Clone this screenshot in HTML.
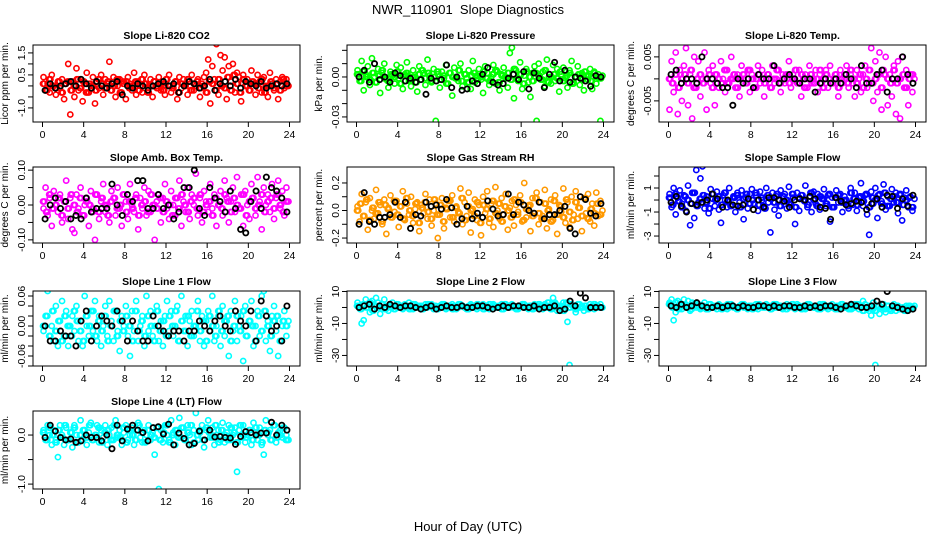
<!DOCTYPE html>
<html><head><meta charset="utf-8"><style>
html,body{margin:0;padding:0;background:#fff;}
svg{display:block;font-family:"Liberation Sans",sans-serif;}
</style></head><body>
<svg id="chart" width="936" height="540" viewBox="0 0 936 540" xmlns="http://www.w3.org/2000/svg">
<rect x="0" y="0" width="936" height="540" fill="#fff"/>
<text x="468" y="14" text-anchor="middle" font-size="13">NWR_110901&#160; Slope Diagnostics</text>
<text x="468" y="531" text-anchor="middle" font-size="13">Hour of Day (UTC)</text>
</svg>
<script>
const xTicks = [0,4,8,12,16,20,24];
const titles = ["Slope Li-820 CO2","Slope Li-820 Pressure","Slope Li-820 Temp.","Slope Amb. Box Temp.","Slope Gas Stream RH","Slope Sample Flow","Slope Line 1 Flow","Slope Line 2 Flow","Slope Line 3 Flow","Slope Line 4 (LT) Flow"];
const yTitles = ["Licor ppm per min.","kPa per min.","degrees C per min.","degrees C per min.","percent per min.","ml/min per min.","ml/min per min.","ml/min per min.","ml/min per min.","ml/min per min."];
const colors = ["#ff0000","#00ff00","#ff00ff","#ff00ff","#ff9900","#0000ff","#00ffff","#00ffff","#00ffff","#00ffff"];
const yDomains = [[-1.64,1.86],[-33.8,24],[-9.8,7.7],[-10.9,10.9],[-23.6,31.6],[-3.58,2.75],[-8,7],[-36.6,10.3],[-36.6,10.3],[-1.10,0.49]];
const yTickVals = [[-1,-0.5,0,0.5,1,1.5],[-30,-20,-10,0,10,20],[-5,0,5],[-10,-5,0,5,10],[-20,-10,0,10,20],[-3,-2,-1,0,1,2],[-8,-6,-4,-2,0,2,4,6],[-30,-20,-10,0,10],[-30,-20,-10,0,10],[-1,-0.5,0]];
const yLabelVals = [[-1,0.5,1.5],[-30,0],[-5,5],[-10,0,10],[-20,0,20],[-3,-1,1],[-6,0,6],[-30,-10,10],[-30,-10,10],[-1,0]];
const yLabelText = [["-1.0","0.5","1.5"],["-0.03","0.00"],["-0.005","0.005"],["-0.10","0.00","0.10"],["-0.2","0.0","0.2"],["-3","-1","1"],["-0.06","0.00","0.06"],["-30","-10","10"],["-30","-10","10"],["-1.0","0.0"]];

const co2 = [0.4,-0.2,0.1,-0.3,0.5,0.0,-0.4,0.2,-0.1,0.3,-0.6,0.1,1.0,-1.3,0.2,-0.5,0.8,-0.2,0.3,-0.7,0.1,0.6,-0.3,0.0,0.4,-0.8,0.2,-0.1,0.5,-0.4,0.3,0.1,1.1,-0.2,0.4,-0.5,0.0,0.3,-0.3,0.2,
-0.6,0.4,0.1,-0.2,0.6,-0.4,0.2,0.0,-0.3,0.5,0.1,-0.1,0.3,-0.5,0.2,0.0,0.4,-0.2,0.1,-0.4,0.3,0.5,-0.3,0.0,0.2,-0.6,0.4,-0.1,0.3,0.1,-0.4,0.2,0.5,-0.2,0.0,0.3,-0.5,0.1,0.4,0.6,
1.2,-0.8,0.9,0.3,1.9,-0.4,1.4,0.7,1.3,-0.6,0.9,0.2,1.0,-0.3,0.6,0.4,-0.7,0.5,0.0,0.3,-0.2,0.7,0.1,-0.4,0.5,0.2,-0.3,0.4,0.0,-0.5,0.6,0.1,-0.2,0.3,-0.6,0.2,0.4,-0.1,0.3,0.0];
const co2Core = [0.1,-0.2,0.3,0.0,-0.1,0.2,-0.3,0.1,0.2,-0.2,0.0,0.3,-0.1,0.2,-0.3,0.1,0.0,-0.2,0.3,0.1,-0.1,0.2,-0.2,0.0,0.3,-0.3,0.1,0.2,-0.1,0.0,0.2,-0.2,0.3,0.1,-0.3,0.0,0.2,-0.1,0.1,-0.2,
0.3,0.0,-0.1,0.2,-0.3,0.1,0.0,0.3,-0.2,0.1,0.2,-0.1,0.0,-0.3,0.2,0.1,-0.2,0.3,0.0,-0.1,0.4,-0.2,0.5,0.1,-0.3,0.3,0.0,-0.2,0.2,0.1,-0.1,0.3,-0.3,0.0,0.2,-0.1,0.1,-0.2,0.3,0.0];
const co2Ref = [-0.2,0.1,-0.1,0.0,0.1,0.2,0.0,0.3,0.1,-0.1,0.2,0.0,-0.1,0.1,0.2,-0.4,0.0,-0.1,0.1,0.0,-0.2,0.0,0.1,0.2,0.0,0.1,-0.3,0.0,0.2,0.1,-0.1,0.0,0.3,-0.2,0.1,0.2,0.0,0.3,-0.1,0.2,0.1,0.0,0.2,-0.1,0.0,0.1,0.0,0.1];
const pres = [5,-3,12,-10,2,8,-6,14,0,-4,6,-12,3,10,-2,-8,4,1,-5,9,-1,7,-9,2,11,-3,-7,5,0,-11,8,-2,3,-6,13,1,-4,6,-33,2,
-8,4,-1,9,-5,3,-14,7,0,-3,10,-7,2,-1,5,-9,12,-4,1,6,-2,-12,8,3,-6,0,9,-5,4,-10,2,7,-1,-8,18,22,-16,5,-3,11,
-9,1,6,-4,-15,3,8,-33,10,-2,4,-7,13,0,-5,9,-3,6,-11,2,7,-1,-8,5,12,-4,0,8,-6,3,-10,1,-2,6,-9,4,-5,2,-33,1];
const presCore = [2,-3,4,0,-2,3,-4,1,5,-1,-3,2,0,4,-5,1,3,-2,0,-4,2,5,-1,3,-3,0,4,-2,1,-5,3,0,-1,5,-3,2,-4,1,3,-2,
0,4,-1,-3,2,5,-4,1,0,3,-2,6,-1,2,-5,4,0,-3,3,1,-2,5,-4,0,2,-1,4,-3,1,3,-5,0,2,-2,4,1,-3,3,0,-1];
const presRef = [0,5,-4,10,-2,0,-4,3,1,-3,-1,-4,-2,-13,-1,-3,-2,9,-8,0,-10,-9,-3,-5,2,7,-4,-6,-5,-1,2,-2,4,-9,3,-1,-8,2,11,-3,5,-4,0,-1,-3,-7,1,0];
const lTemp = [-7,4,-3,6,-8,2,-5,3,7,-6,1,-9,5,-2,4,-4,0,6,-7,2,-1,3,-6,1,-2,4,0,-3,2,-1,5,0,-2,1,-4,3,0,-1,2,-3,
1,-2,0,3,-1,2,-4,0,1,-2,3,-1,0,2,-3,1,-1,0,4,-2,1,0,-1,2,-4,0,1,-2,3,-1,0,2,-3,1,-1,0,2,-2,3,-1,
0,1,-4,2,-1,0,3,-2,1,-1,-4,2,0,-3,1,3,-2,-1,7,-5,4,-3,6,-7,2,5,-6,1,-4,3,-8,4,-9,5,-2,2,-6,1,-3,0];
const lTempCore = [0,-1,1,-2,0,1,-1,2,-2,0,1,-1,0,1,-2,1,0,-1,2,-1,0,1,-2,0,1,-1,2,0,-2,1,0,-1,1,-2,0,2,-1,0,1,-1,
0,2,-1,1,-2,0,1,-1,0,2,-2,1,0,-1,1,-2,0,1,-1,2,0,-1,1,-2,0,2,-1,0,1,-2,1,0,-1,2,-1,0,1,-2,0,1];
const lTempRef = [1,2,-1,0,0,-1,5,0,0,-1,-2,-2,-6,0,-1,0,-2,1,0,0,3,-1,0,1,0,-1,0,0,-3,-1,0,-1,0,-1,1,0,-2,3,-1,-1,1,2,-3,0,0,5,1,-1];
const boxTemp = [-1,5,-3,2,-6,4,0,-2,3,-5,1,7,-4,2,-7,-8,3,-1,5,-3,0,2,-6,4,-2,-10,3,-4,1,6,-2,0,-5,4,2,-3,5,-1,-6,3,
1,-4,6,0,-2,3,-7,2,-1,5,-3,4,-2,0,-10,1,3,-5,2,6,-1,-4,4,0,-3,2,7,-6,1,-2,5,-4,3,0,9,-3,2,-5,4,1,
-2,6,-1,3,-6,0,4,-3,7,2,-5,1,5,-2,8,-1,3,-6,4,0,-4,6,2,-3,8,1,-7,5,0,3,-2,6,-4,2,7,-1,4,-3,5,1];
const boxTempCore = [1,-2,3,-1,0,2,-3,1,-1,3,0,-2,2,-3,1,0,-1,3,-2,2,0,-3,1,2,-1,0,3,-2,1,-1,2,-3,0,1,-2,3,0,-1,2,-2,
1,0,-3,2,-1,3,0,-2,1,2,-1,3,-2,0,1,-3,2,0,-1,3,1,-2,2,0,-1,3,-3,1,2,-1,0,3,-2,1,2,-1,3,0,-2,1];
const boxTempRef = [-4,0,2,-1,1,-4,-3,-4,2,-2,-1,-1,-1,6,0,-3,3,1,7,7,-1,-1,3,-1,0,-4,-2,5,5,10,-1,-3,5,2,1,-2,4,-1,-7,-8,1,4,-1,8,5,4,2,-2];
const rh = [3,-8,12,-4,6,-14,9,0,-6,15,-2,4,-10,8,-17,2,11,-5,-1,7,-12,3,14,-7,5,-3,10,-9,1,6,-15,4,-2,12,-6,8,-11,0,5,-20,
-3,9,-13,2,7,-5,11,-8,3,-1,16,-10,6,-4,13,-16,1,8,-7,4,-18,10,-2,14,-9,5,-12,17,0,-6,9,-3,12,-14,2,7,-11,4,-1,11,
-8,20,-5,3,-15,9,-2,13,-10,6,-4,15,-13,1,8,-7,11,-17,4,-1,16,-9,6,-12,10,-3,14,-6,2,-15,9,-2,12,-8,5,-11,13,-4,7,0];
const rhCore = [0,5,-4,8,-7,2,-2,6,-8,4,1,-5,7,-3,3,-6,9,0,-4,5,-9,2,6,-1,-6,8,-3,4,-8,1,7,-5,2,-2,9,-7,3,0,-4,6,
-9,4,1,-6,7,-2,5,-8,3,0,-5,8,-3,6,-7,1,4,-4,9,-2,-6,5,0,-8,7,-3,3,-5,8,-1,-7,6,2,-4,9,-6,1,-2,5,-3];
const rhRef = [-10,13,-8,-10,-5,-5,-3,6,-5,6,-13,-3,-4,6,3,4,1,8,2,-10,-6,3,-6,-2,-5,7,1,-4,-3,12,-3,6,4,0,-2,6,-6,-3,-3,0,3,-13,-17,10,8,-2,-4,5];
const sFlow = [0.5,-0.6,1.0,-1.2,0.2,0.8,-0.3,0.4,-0.9,1.2,-2.1,0.6,-1.5,2.5,-0.2,1.8,2.8,-0.7,0.3,-1.1,0.9,0.1,-0.5,0.7,-0.8,-1.9,0.4,0.0,-0.6,1.0,-0.4,0.3,-1.0,0.6,-0.2,0.8,-1.6,0.2,-0.7,0.5,
0.9,-0.3,0.4,-0.9,0.7,0.0,-0.5,1.0,-0.2,-2.7,0.6,-0.8,0.3,-1.3,0.8,-0.1,0.5,-0.7,1.1,-0.4,0.2,-2.0,0.6,-0.9,0.4,0.0,1.2,-0.6,0.3,-1.0,0.7,-0.3,0.5,-0.8,0.1,0.9,-0.5,0.4,-1.8,0.2,
-0.6,0.8,-0.2,0.5,-1.0,0.3,0.0,-0.7,1.0,-0.4,0.6,-0.9,0.2,1.4,-0.5,0.4,-1.2,-2.9,0.7,-0.3,1.0,-1.5,0.5,-0.1,1.3,-0.8,0.3,-0.5,0.9,-0.2,0.6,-1.1,0.4,-1.7,0.2,0.8,-0.6,0.3,-0.9,0.1];
const sFlowCore = [0.2,-0.4,0.5,-0.1,-0.6,0.3,0.0,-0.3,0.6,-0.5,0.1,0.4,-0.2,-0.7,0.5,0.0,0.3,-0.4,0.6,-0.1,-0.5,0.2,0.4,-0.6,0.1,0.5,-0.3,0.0,0.6,-0.4,0.2,-0.7,0.4,0.1,-0.2,0.5,-0.5,0.3,0.0,-0.3,
0.5,-0.6,0.2,0.4,-0.1,-0.4,0.6,0.0,-0.5,0.3,0.1,-0.3,0.5,-0.6,0.2,0.4,-0.2,0.0,-0.5,0.6,0.1,-0.4,0.3,-0.1,0.5,-0.6,0.2,0.0,0.4,-0.3,0.6,-0.5,0.1,0.3,-0.2,0.5,-0.4,0.0,0.2,-0.6];
const sFlowRef = [-0.2,0.3,-0.5,-1.0,-0.3,-0.4,-0.2,0.0,0.5,0.1,-0.6,0.0,-0.4,-0.5,-0.4,0.1,-0.8,0.0,-0.6,0.2,0.2,0.0,-0.1,-0.6,0.0,0.1,0.0,0.3,0.1,-0.6,-0.7,-1.6,0.2,-0.1,-0.4,-0.3,-0.1,-0.2,-0.8,-0.3,0.1,-0.6,0.4,0.3,-0.7,0.1,-0.5,0.4];
const line1 = [-1,2,7,-2,0,-3,4,-4,1,5,-2,3,-4,0,2,-1,4,-3,1,-4,6,0,-2,3,-1,5,-3,2,-4,0,4,-2,5,1,-3,3,-1,-5,2,0,
4,-2,-6,3,-1,5,-3,0,2,-4,6,-1,3,-2,0,4,-3,1,-4,2,5,-1,3,-2,0,4,-3,6,-1,2,-4,1,3,-2,0,5,-3,2,-4,1,
3,-1,6,-3,0,2,-4,4,-2,1,-6,3,-1,5,-3,0,2,-7,4,-2,1,5,-4,0,3,-2,6,7,-3,1,-5,2,4,-1,-6,-9,0,3,-2,1];
const line1Core = [0,2,-2,3,-1,1,-3,2,0,-2,3,1,-1,-3,2,0,3,-2,1,-1,2,-3,0,3,-2,1,-1,2,0,-3,3,-1,1,-2,2,0,-3,3,-1,1,
-2,2,0,3,-3,1,-1,2,-2,0,3,-1,1,-3,2,0,-2,3,-1,1,2,-3,0,2,-1,3,-2,1,0,-3,2,-1,3,0,-2,1,2,-3,1,0];
const line1Ref = [0,-3,-3,-1,-2,-2,-4,1,3,-3,0,2,1,0,3,1,-3,1,-1,-3,-3,2,0,-1,-2,-1,-1,-3,-1,-1,1,0,-1,1,2,0,-1,3,1,0,3,-3,5,2,-1,0,-3,4];
const line2 = [3,1,-10,-8,5,2,-3,4,-1,6,3,-4,2,5,0,-2,1,3,-1,2,0,1,-1,2,1,3,0,-1,2,1,0,1,-1,2,0,1,2,-1,1,0,
1,2,0,-1,1,0,2,1,-1,0,2,1,0,-1,1,2,0,1,-1,0,1,2,0,1,-1,0,2,1,0,1,2,-1,0,1,0,2,1,-1,0,1,
2,0,1,-1,1,0,2,1,0,1,-1,2,0,1,0,6,3,-2,1,0,3,-1,-9,-36,2,1,-3,2,0,1,-2,1,0,2,1,-1,1,0,2,0];
const line2Core = [1,-1,2,0,3,-2,1,0,2,-1,1,0,-1,2,1,0,1,-1,2,0,1,-1,0,2,1,0,-1,1,2,0,1,-1,0,2,1,0,-1,1,0,2,
1,-1,0,2,1,0,1,-1,2,0,1,0,-1,1,2,0,1,-1,0,2,1,0,3,-1,2,0,1,-2,3,0,1,-1,2,0,1,-1,0,2,1,0];
const line2Ref = [0,1,2,-1,1,0,2,1,0,1,1,0,-1,0,1,-1,0,1,0,0,1,0,0,1,1,0,-1,0,1,0,1,1,0,0,1,-1,0,0,1,-2,-1,4,1,9,6,0,0,0];
const line3 = [3,5,-8,-3,4,2,-1,5,1,4,-2,3,1,0,2,-1,1,3,0,-1,2,1,0,-1,2,1,0,1,-1,0,2,1,0,-1,1,2,0,1,-1,0,
1,0,2,-1,1,0,1,2,0,-1,1,0,2,1,0,-1,1,2,0,1,0,-1,2,1,0,1,-1,0,2,1,0,1,-1,2,0,1,0,-1,1,2,
0,1,-1,0,2,1,0,-1,1,0,2,1,-1,0,4,2,-1,-2,-5,3,-36,1,-4,0,2,-3,1,-1,0,2,-2,1,-1,0,-2,1,0,-1,0,1];
const line3Core = [2,0,3,-1,1,2,0,-1,2,1,0,1,-1,2,0,1,1,-1,0,2,1,0,-1,1,2,0,1,-1,0,2,1,0,1,-1,2,0,1,0,-1,1,
2,0,1,-1,0,2,1,0,1,-1,2,0,1,0,-1,1,2,0,1,-1,0,2,1,-2,0,1,-1,-2,1,0,-1,1,-2,0,1,-1,0,-2,1,0];
const line3Ref = [1,0,2,0,1,3,1,0,0,1,0,1,1,0,1,0,0,1,1,0,1,0,1,1,0,0,1,0,1,0,1,1,0,-1,1,2,1,0,0,1,4,2,10,1,0,-1,-2,-1];
const line4 = [0.1,-0.1,0.2,0.0,-0.2,0.1,-0.1,-0.45,0.2,0.0,-0.2,0.15,-0.1,0.05,-0.25,0.2,0.0,-0.15,0.3,-0.1,0.1,-0.2,0.05,0.25,-0.1,0.0,0.2,-0.15,0.1,-0.05,0.2,-0.2,0.0,0.15,-0.1,0.3,-0.05,0.1,-0.2,0.05,
0.2,-0.1,0.0,0.15,-0.2,0.1,0.25,-0.05,-0.15,0.1,0.0,0.2,-0.1,0.05,-0.4,0.15,-1.1,0.1,-0.15,0.2,0.0,-0.1,0.3,0.05,-0.2,0.1,0.35,-0.05,0.15,-0.1,0.2,0.0,-0.2,0.1,0.45,-0.1,0.05,0.2,-0.25,0.1,
0.3,-0.05,0.15,-0.2,0.0,0.1,-0.1,0.25,-0.15,0.05,0.2,-0.1,0.0,0.15,-0.75,0.1,-0.05,0.2,-0.15,0.0,0.1,-0.2,0.25,0.05,-0.1,0.15,-0.2,-0.4,0.3,0.0,0.1,-0.1,0.2,-0.15,0.05,0.1,-0.05,0.15,0.0,-0.1];
const line4Core = [0.05,-0.1,0.15,0.0,-0.15,0.1,-0.05,0.2,-0.1,0.05,0.15,-0.15,0.0,0.1,-0.05,0.2,-0.1,0.0,0.15,-0.15,0.05,0.1,-0.1,0.2,0.0,-0.05,0.15,-0.15,0.1,0.0,-0.1,0.2,0.05,-0.15,0.1,0.0,-0.05,0.15,-0.1,0.05,
0.2,-0.15,0.0,0.1,-0.05,0.15,-0.1,0.05,0.2,-0.15,0.0,0.1,-0.1,0.15,0.05,-0.05,0.2,-0.15,0.1,0.0,-0.1,0.15,0.05,-0.15,0.2,0.0,-0.05,0.1,-0.1,0.15,0.0,-0.15,0.1,0.05,-0.1,0.2,-0.05,0.0,0.15,-0.1];
const line4Ref = [-0.05,0.2,0.08,-0.05,-0.1,-0.08,-0.15,-0.12,0.0,-0.05,-0.05,-0.12,0.0,-0.28,0.2,-0.12,0.12,0.2,0.1,0.05,-0.12,0.15,0.17,0.02,0.22,-0.2,0.04,-0.07,-0.2,-0.17,0.08,-0.1,0.1,-0.04,-0.03,-0.05,-0.06,-0.19,-0.03,0.07,0.05,0.0,0.04,0.04,0.26,0.0,0.2,0.1];

const seriesAll = [co2,pres,lTemp,boxTemp,rh,sFlow,line1,line2,line3,line4];
const coreAll = [co2Core,presCore,lTempCore,boxTempCore,rhCore,sFlowCore,line1Core,line2Core,line3Core,line4Core];
const refAll = [co2Ref,presRef,lTempRef,boxTempRef,rhRef,sFlowRef,line1Ref,line2Ref,line3Ref,line4Ref];

const NS = "http://www.w3.org/2000/svg";
const svg = document.getElementById("chart");
const colLeft = [33,347,659];
const rowTop = [45,167,291,411];
const rowBot = [122,243,366,489];
const boxW = 267;

function mk(tag, attrs, parent){
  const e = document.createElementNS(NS, tag);
  for (const k in attrs) e.setAttribute(k, attrs[k]);
  parent.appendChild(e);
  return e;
}

for (let p = 0; p < 10; p++) {
  const L = colLeft[p % 3], T = rowTop[Math.floor(p/3)], B = rowBot[Math.floor(p/3)];
  const xs = h => L + 9.5 + h * 247 / 24;
  const [ymin, ymax] = yDomains[p];
  const ys = v => B - (v - ymin) / (ymax - ymin) * (B - T);
  const g = document.createElementNS(NS, "g");
  
  
  svg.appendChild(g);

  const t = mk("text", {x: L + boxW/2, y: T - 6, "text-anchor":"middle", "font-size":"10.5", "font-weight":"bold"}, g);
  t.textContent = titles[p];
  
  

  const yt = mk("text", {transform:`translate(${L-25},${(T+B)/2}) rotate(-90)`, "text-anchor":"middle", "font-size":"10"}, g);
  yt.textContent = yTitles[p];
  
  

  xTicks.forEach(h => {
    const tk = mk("line", {x1: xs(h), x2: xs(h), y1: B, y2: B + 5, stroke:"#000", "stroke-width":"1"}, g);
    
    
    const tl = mk("text", {x: xs(h), y: B + 16, "text-anchor":"middle", "font-size":"10.5"}, g);
    tl.textContent = h;
    
    
  });
  const xa = mk("line", {x1: xs(0), x2: xs(24), y1: B, y2: B, stroke:"#000"}, g);
  
  

  yTickVals[p].forEach(v => {
    const tk = mk("line", {x1: L - 5, x2: L, y1: ys(v), y2: ys(v), stroke:"#000", "stroke-width":"1"}, g);
    
    
  });
  yLabelVals[p].forEach((v, i) => {
    const tl = mk("text", {transform:`translate(${L-8},${ys(v)}) rotate(-90)`, "text-anchor":"middle", "font-size":"10.5"}, g);
    tl.textContent = yLabelText[p][i];
    
    
  });

  const clip = mk("clipPath", {id: "clip" + p}, g);
  mk("rect", {x: L, y: T, width: boxW, height: B - T}, clip);
  const pts = mk("g", {"clip-path": `url(#clip${p})`}, g);

  const cs = coreAll[p];
  [0.05, 0.17].forEach(off => {
    cs.forEach((v, i) => {
      const h = off + i * 23.6 / (cs.length - 1);
      const c = mk("circle", {cx: xs(h), cy: ys(v), r: 2.6, fill:"none", stroke: colors[p], "stroke-width":"1.6"}, pts);
      
      
    });
  });
  const s = seriesAll[p];
  s.forEach((v, i) => {
    const h = 0.1 + i * 23.8 / (s.length - 1);
    const c = mk("circle", {cx: xs(h), cy: ys(v), r: 2.6, fill:"none", stroke: colors[p], "stroke-width":"1.6"}, pts);
    
    
  });
  const r = refAll[p];
  r.forEach((v, i) => {
    const h = 0.25 + i * 0.5;
    const c = mk("circle", {cx: xs(h), cy: ys(v), r: 2.6, fill:"none", stroke:"#000", "stroke-width":"1.8"}, pts);
    
    
  });

  const box = mk("rect", {x: L, y: T, width: boxW, height: B - T, fill:"none", stroke:"#000", "stroke-width":"1"}, g);
  
  
}
</script>
</body></html>
